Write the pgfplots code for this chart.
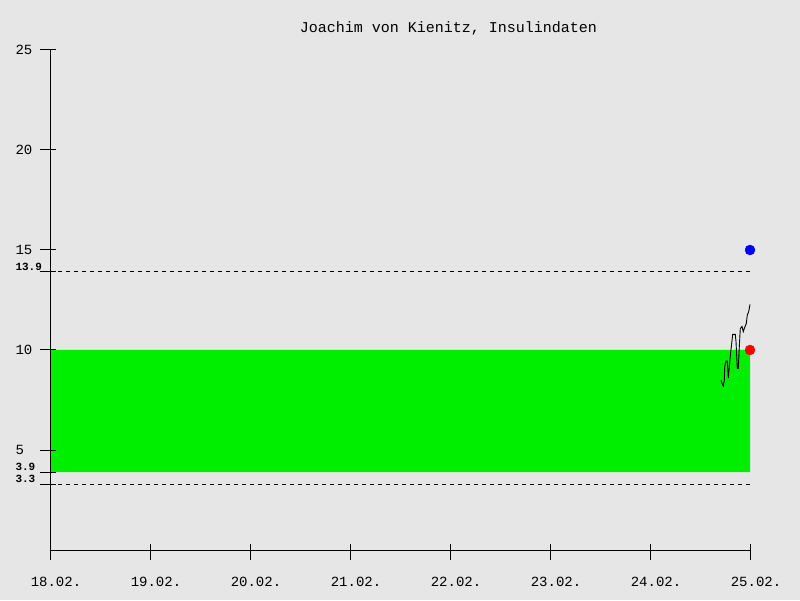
\documentclass[border=0pt]{standalone}
\usepackage{pgfplots}
\pgfplotsset{compat=1.18}
\usepackage{fontspec}
\setmainfont{Liberation Mono}
\definecolor{bg}{RGB}{230,230,230}
\definecolor{zone}{RGB}{0,238,0}
\begin{document}
\begin{tikzpicture}[x=1pt,y=1pt]
\fill[bg] (0,0) rectangle (800,600);
\begin{axis}[
 at={(50pt,50pt)}, anchor=south west,
 scale only axis, width=700pt, height=500pt,
 xmin=0, xmax=7, ymin=0, ymax=25,
 clip=false,
 axis lines=left, axis line style={-, line width=1pt, black},
 axis on top,
 tick align=center, major tick length=16pt,
 every tick/.style={black, line width=1pt},
 ytick style={xshift=-2pt},
 xtick style={yshift=-2pt},
 /pgf/number format/assume math mode=true,
 tick label style={font=\fontsize{14}{14}\selectfont},
 xtick={0,1,2,3,4,5,6,7},
 xticklabels={18.02.,19.02.,20.02.,21.02.,22.02.,23.02.,24.02.,25.02.},
 xticklabel style={anchor=center, xshift=6pt, yshift=-24pt},
 ytick={5,10,15,20,25},
 yticklabel style={anchor=west, xshift=-30pt},
 extra y ticks={3.3,3.9,13.9},
 extra y tick style={yticklabel style={font=\fontsize{11}{11}\selectfont\bfseries, anchor=south west, yshift=-2pt}},
 title={Joachim von Kienitz, Insulindaten},
 title style={font=\fontsize{15}{15}\selectfont, at={(axis description cs:0.569,1)}, anchor=center, yshift=16pt},
]
\addplot[fill=zone, draw=none] coordinates {(0,3.9) (7,3.9) (7,10) (0,10) (0,3.9)};
\addplot[black, line width=1pt, dash pattern=on 4pt off 4pt] coordinates {(0,13.9) (7,13.9)};
\addplot[black, line width=1pt, dash pattern=on 4pt off 4pt] coordinates {(0,3.3) (7,3.3)};
\addplot[black, line width=0.9pt, mark=none] coordinates {
(6.710,8.50) (6.720,8.33) (6.733,8.20) (6.743,8.50) (6.747,9.17) (6.760,9.45)
(6.773,9.45) (6.783,8.60) (6.793,9.17) (6.807,9.92) (6.817,10.33) (6.827,10.78)
(6.853,10.78) (6.860,10.42) (6.873,9.08) (6.883,9.08) (6.893,10.17) (6.903,11.08)
(6.920,11.17) (6.933,10.92) (6.943,11.08) (6.963,11.33) (6.973,11.75) (6.987,11.92)
(7.000,12.28)};
\addplot[only marks, mark=*, mark size=5pt, color={rgb,255:red,0;green,0;blue,255}] coordinates {(7,15)};
\addplot[only marks, mark=*, mark size=5pt, color={rgb,255:red,255;green,0;blue,0}] coordinates {(7,10)};
\end{axis}
\end{tikzpicture}
\end{document}
